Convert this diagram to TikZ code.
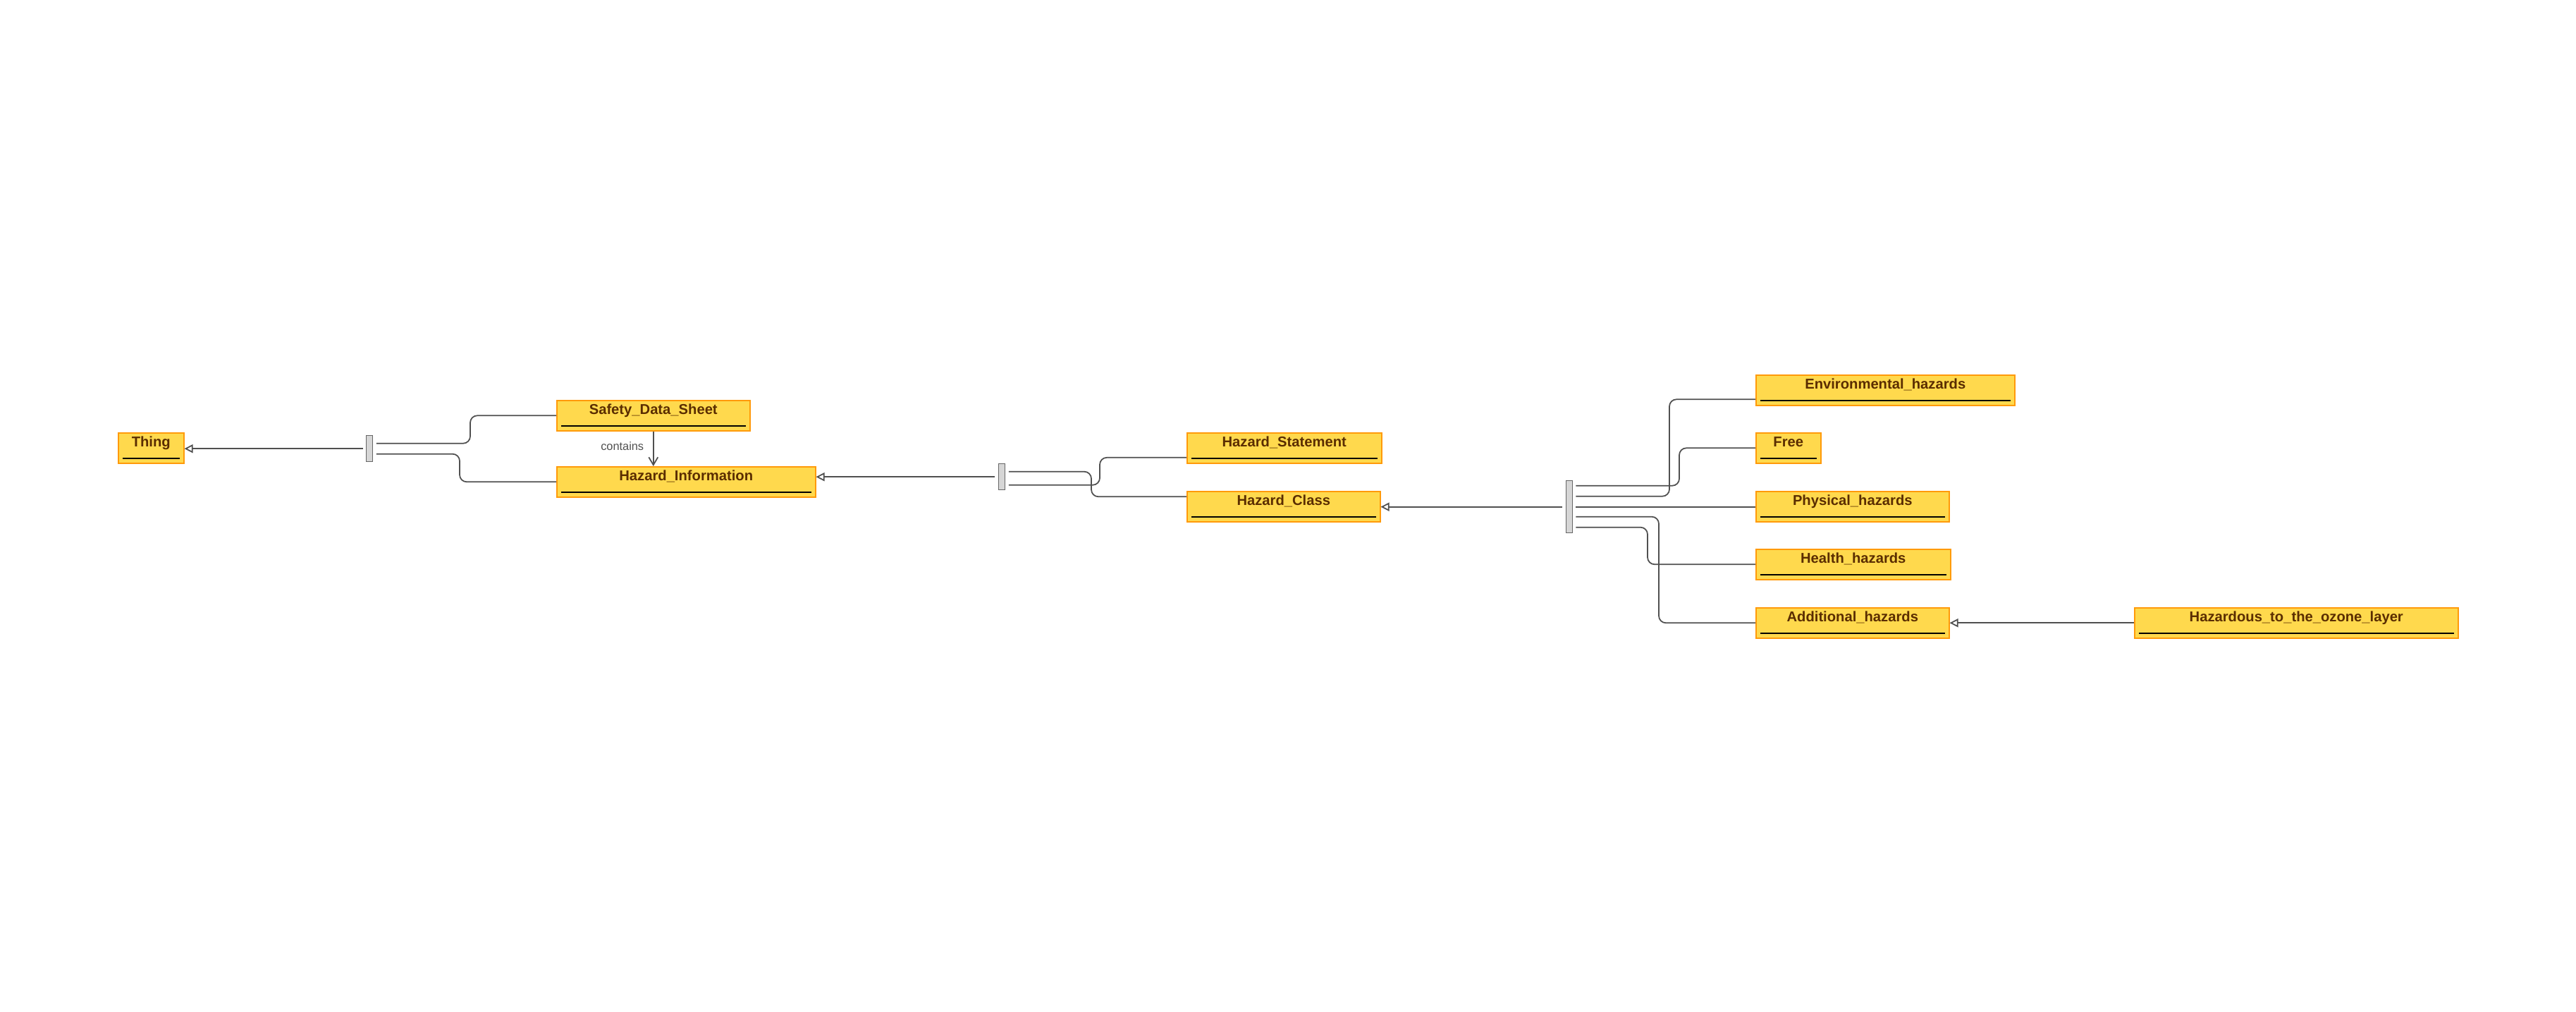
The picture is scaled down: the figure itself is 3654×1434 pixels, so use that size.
\documentclass[tikz,border=0pt]{standalone}
\usepackage{fontspec}
\setmainfont{Liberation Sans}
\usepackage{xcolor}
\usetikzlibrary{arrows.meta,positioning,calc}

\definecolor{boxfill}{HTML}{FFD94D}
\definecolor{boxline}{HTML}{FF9A0A}
\definecolor{boxtext}{HTML}{5A2D00}
\definecolor{linkgray}{HTML}{505050}
\definecolor{barfill}{HTML}{D6D6D6}
\definecolor{barline}{HTML}{666666}

\begin{document}
\begin{tikzpicture}[x=0.02cm,y=-0.02cm,
    classbox/.style={draw=boxline,fill=boxfill,line width=0.9pt,anchor=north west,
        inner xsep=0pt,inner ysep=0pt,text height=0.4cm,text depth=0.46cm,
        text=boxtext,font=\fontsize{11.5}{13}\selectfont\bfseries,
        path picture={\draw[line width=1.1pt,black]
            ([xshift=0.12cm,yshift=0.14cm]path picture bounding box.south west) --
            ([xshift=-0.12cm,yshift=0.14cm]path picture bounding box.south east);}},
    splitbar/.style={draw=barline,fill=barfill,line width=0.8pt,anchor=north west,
        inner sep=0pt,minimum width=0.17cm},
    link/.style={draw=linkgray,line width=1pt,rounded corners=0.2cm},
    isa/.style={link,-{Triangle[open,length=0.24cm,width=0.24cm]}},
    lbl/.style={text=linkgray,font=\fontsize{9.3}{11}\selectfont,inner sep=1pt}]
    \path[fill=white,use as bounding box] (0,0) rectangle (3654,1434);

    % classes
    \node[classbox,minimum width=1.86cm] (thing) at (167,613) {Thing};
    \node[classbox,minimum width=5.48cm] (sds) at (789,567) {Safety\_Data\_Sheet};
    \node[classbox,minimum width=7.34cm] (hi) at (789,661) {Hazard\_Information};
    \node[classbox,minimum width=5.52cm] (hs) at (1683,613) {Hazard\_Statement};
    \node[classbox,minimum width=5.48cm] (hc) at (1683,696) {Hazard\_Class};
    \node[classbox,minimum width=7.34cm] (env) at (2490,531) {Environmental\_hazards};
    \node[classbox,minimum width=1.84cm] (free) at (2490,613) {Free};
    \node[classbox,minimum width=5.48cm] (phys) at (2490,696) {Physical\_hazards};
    \node[classbox,minimum width=5.52cm] (health) at (2490,778) {Health\_hazards};
    \node[classbox,minimum width=5.48cm] (add) at (2490,861) {Additional\_hazards};
    \node[classbox,minimum width=9.18cm] (ozone) at (3027,861) {Hazardous\_to\_the\_ozone\_layer};

    % subclass splits
    \node[splitbar,minimum height=0.74cm] (thingsplit) at (519,617) {};
    \node[splitbar,minimum height=0.74cm] (infosplit) at (1416,657) {};
    \node[splitbar,minimum height=1.48cm] (classsplit) at (2221,681) {};

    % Thing
    \draw[isa] ($(thingsplit.west)+(-4,0)$) -- (thingsplit.west -| thing.east);
    \draw[link] ($(thingsplit.east)+(5,-7.5)$) -| ($(sds.west)+(-122,0)$) -- (sds.west);
    \draw[link] ($(thingsplit.east)+(5,7.5)$) -| ($(hi.west)+(-137,0)$) -- (hi.west);
    \draw[link,-{Straight Barb[length=0.22cm,width=0.26cm]}] (sds.south) --
        node[lbl,left=0.22cm,yshift=0.08cm] (containslbl) {contains} (sds.south |- hi.north);

    % Hazard_Information
    \draw[isa] ($(infosplit.west)+(-5,0)$) -- (infosplit.west -| hi.east);
    \draw[link] ($(infosplit.east)+(5,11.5)$) -| ($(hs.west)+(-123,13.5)$) -- ($(hs.west)+(0,13.5)$);
    \draw[link] ($(infosplit.east)+(5,-7.5)$) -| ($(hc.west)+(-135,-14)$) -- ($(hc.west)+(0,-14)$);

    % Hazard_Class
    \draw[isa] ($(classsplit.west)+(-5,0)$) -- (classsplit.west -| hc.east);
    \draw[link] ($(classsplit.east)+(4.5,-30)$) -| ($(free.west)+(-108,0)$) -- (free.west);
    \draw[link] ($(classsplit.east)+(4.5,-15)$) -| ($(env.west)+(-122,13)$) -- ($(env.west)+(0,13)$);
    \draw[link] ($(classsplit.east)+(4.5,0)$) -- (classsplit.east -| phys.west);
    \draw[link] ($(classsplit.east)+(4.5,14)$) -| ($(add.west)+(-137,0)$) -- (add.west);
    \draw[link] ($(classsplit.east)+(4.5,29)$) -| ($(health.west)+(-153,0)$) -- (health.west);

    % Additional_hazards
    \draw[isa] (ozone.west) -- (add.east);
\end{tikzpicture}
\end{document}
